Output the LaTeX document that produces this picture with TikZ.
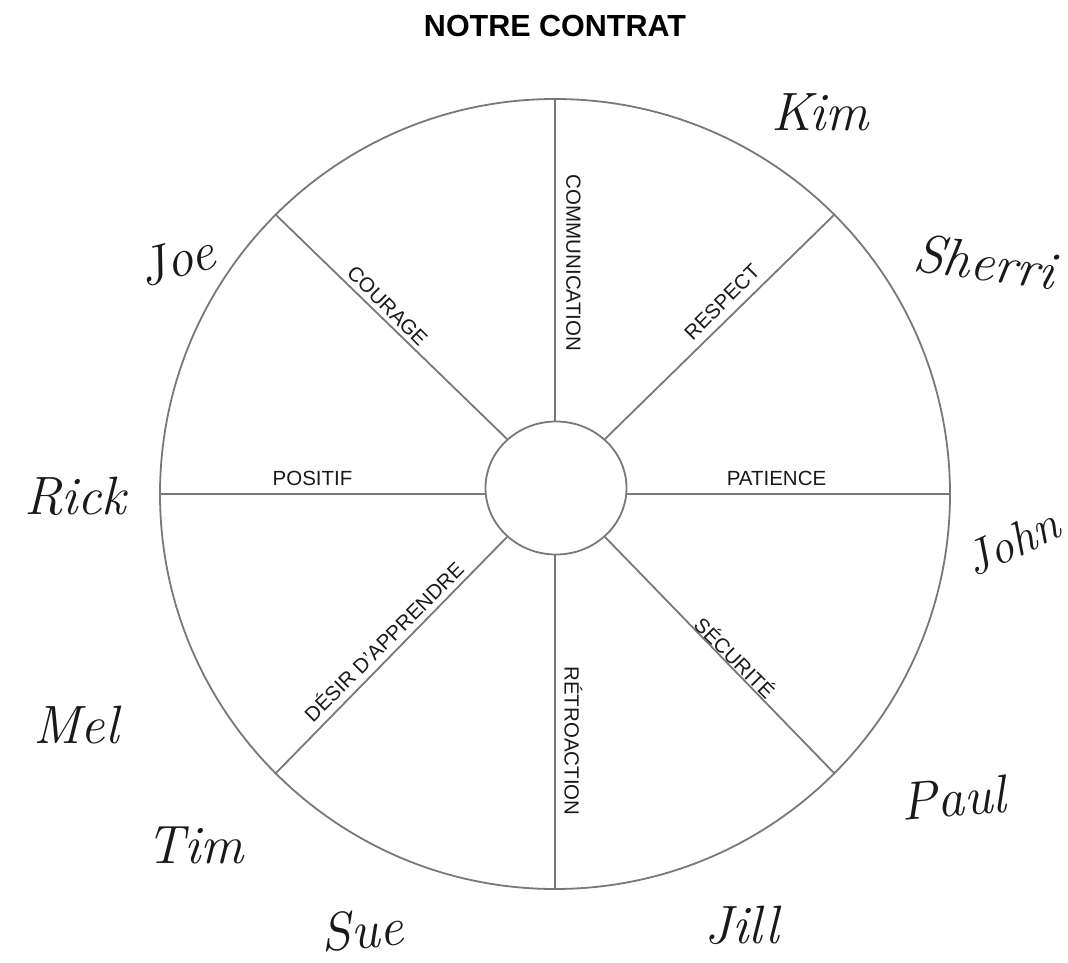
\documentclass[tikz,border=0pt]{standalone}
\usepackage{fontspec}
\setmainfont{Liberation Sans}
\newfontfamily\sigfont{Latin Modern Roman}
\usetikzlibrary{shapes.geometric}
\definecolor{wheelgray}{RGB}{120,120,120}
\definecolor{inkblack}{RGB}{25,25,25}
\tikzset{
  wheelline/.style={draw=wheelgray, line width=1.8pt},
  lbl/.style={font=\fontsize{20.5}{24}\selectfont, text=inkblack, inner sep=0pt},
  ttl/.style={font=\fontsize{30.5}{34}\selectfont\bfseries, text=black, inner sep=0pt},
  sig/.style={font=\sigfont\itshape\fontsize{54}{60}\selectfont, text=inkblack, inner sep=0pt}
}
\begin{document}
\begin{tikzpicture}[x=1pt,y=-1pt]
\useasboundingbox (0,0) rectangle (1068,963);
\node[ttl] (title) at (555,26) {NOTRE CONTRAT};
% wheel
\node[circle, wheelline, minimum size=790, inner sep=0pt] (outer) at (555,494) {};
\node[ellipse, wheelline, minimum width=141, minimum height=133, inner sep=0pt] (hub) at (556,488) {};
\draw[wheelline] (outer.north) -- (hub.north -| outer.north);
\draw[wheelline] (outer.south) -- (hub.south -| outer.south);
\draw[wheelline] (outer.west) -- (hub.west |- outer.west);
\draw[wheelline] (outer.east) -- (hub.east |- outer.east);
\draw[wheelline] (outer.135) -- (hub.135);
\draw[wheelline] (outer.45) -- (hub.45);
\draw[wheelline] (outer.-135) -- (hub.-135);
\draw[wheelline] (outer.-45) -- (hub.-45);
% labels
\node[lbl, rotate=-90] (comm) at (573.5,263) {COMMUNICATION};
\node[lbl, rotate=45] (resp) at (722,302) {RESPECT};
\node[lbl, rotate=-45] (cour) at (387.5,306) {COURAGE};
\node[lbl] (posi) at (312.5,478.5) {POSITIF};
\node[lbl] (pati) at (776.5,478.5) {PATIENCE};
\node[lbl, rotate=-45] (secu) at (735.5,657) {SÉCURITÉ};
\node[lbl, rotate=-90] (retr) at (573.5,741) {RÉTROACTION};
\node[lbl, rotate=45] (desi) at (383,641) {DÉSIR D'APPRENDRE};
% signatures
\node[sig] (kim) at (820,112) {Kim};
\node[sig, rotate=-8] (sherri) at (985,262) {Sherri};
\node[sig, rotate=15] (joe) at (176,260) {Joe};
\node[sig] (rick) at (75,496) {Rick};
\node[sig, rotate=25, font=\sigfont\itshape\fontsize{48}{54}\selectfont] (john) at (1012,542) {John};
\node[sig] (mel) at (76,725) {Mel};
\node[sig] (tim) at (195,845) {Tim};
\node[sig, rotate=5] (sue) at (362,930) {Sue};
\node[sig] (jill) at (742,925) {Jill};
\node[sig, rotate=5] (paul) at (953,798) {Paul};
\end{tikzpicture}
\end{document}
